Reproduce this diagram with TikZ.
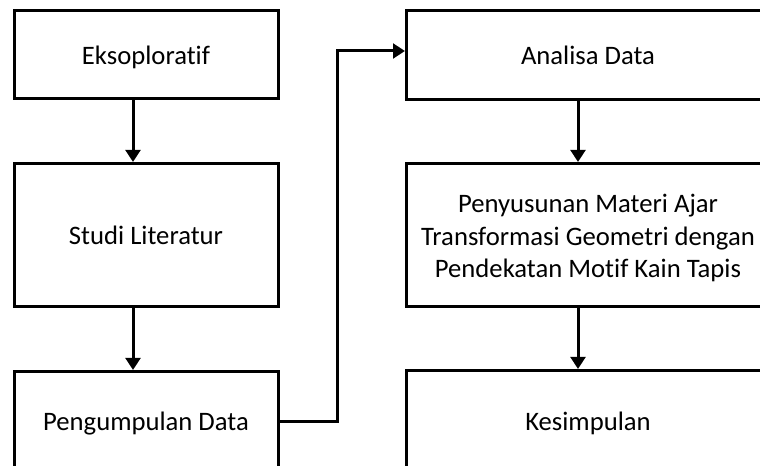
\documentclass[tikz,border=0pt]{standalone}
\usepackage{fontspec}
\setmainfont{Carlito}[Ligatures=NoCommon]
\usetikzlibrary{arrows.meta}

\begin{document}
\begin{tikzpicture}[x=0.75pt,y=-0.75pt,
  box/.style={draw,line width=2.25pt,minimum width=198pt,align=center,
    text height=15pt,text depth=0pt,
    font=\fontsize{20pt}{24.4pt}\selectfont},
  wbox/.style={box,minimum width=272.25pt},
  arr/.style={line width=2.25pt,-{Triangle[width=11pt,length=9pt]}}]
\useasboundingbox (0,0) rectangle (760,466);
\clip (0,0) rectangle (760,466);

\node[box,minimum height=66pt] (eks) at (146,55) {Eksoploratif};
\node[box,minimum height=107.25pt] (stu) at (146,235) {Studi Literatur};
\node[box,minimum height=74.25pt] (pen) at (146,421) {Pengumpulan Data};

\node[wbox,minimum height=66.75pt] (ana) at (588,55) {Analisa Data};
\node[wbox,minimum height=107.25pt,text height=64.5pt] (pny) at (588,235) {Penyusunan Materi Ajar\\Transformasi Geometri dengan\\Pendekatan Motif Kain Tapis};
\node[wbox,minimum height=74.25pt] (kes) at (588,420) {Kesimpulan};

\draw[arr] ([xshift=-9.75pt]eks.south) -- ([xshift=-9.75pt]stu.north);
\draw[arr] ([xshift=-9.75pt]stu.south) -- ([xshift=-9.75pt]pen.north);
\draw[arr] (pen.east) -- ++(58,0) |- ([yshift=3pt]ana.west);
\draw[arr] ([xshift=-7.5pt]ana.south) -- ([xshift=-7.5pt]pny.north);
\draw[arr] ([xshift=-7.5pt]pny.south) -- ([xshift=-7.5pt]kes.north);
\end{tikzpicture}
\end{document}
